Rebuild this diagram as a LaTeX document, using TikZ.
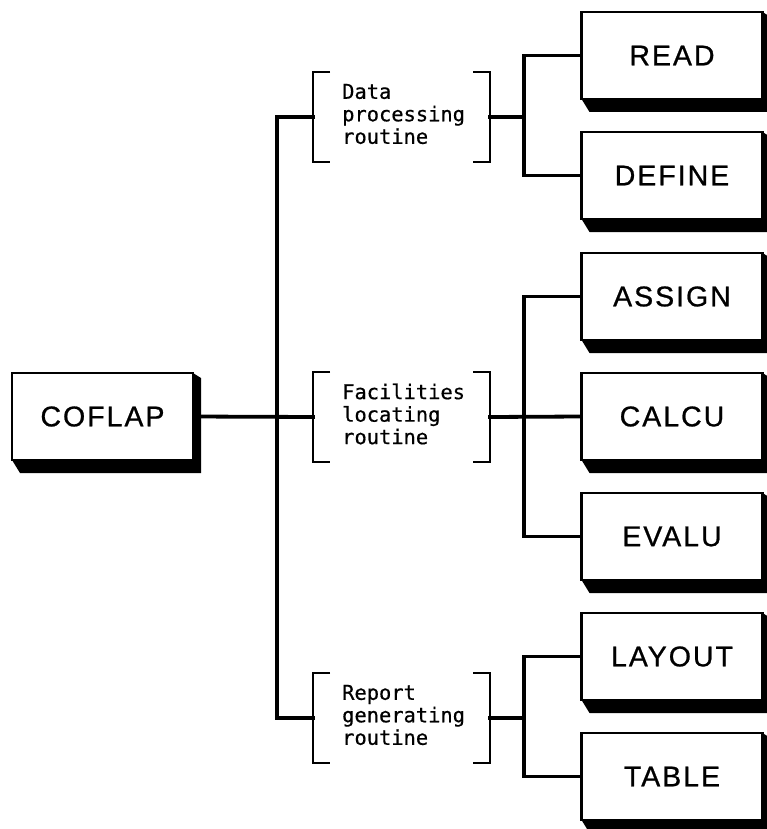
\documentclass[tikz,border=0pt]{standalone}
\usepackage{fontspec}
\newfontfamily\boxfont[LetterSpace=7,FakeBold=0.8]{Liberation Sans}
\newfontfamily\typefont[FakeBold=0.6]{DejaVu Sans Mono}
\usetikzlibrary{backgrounds,calc}
\tikzset{
  module/.style={draw=black, line width=2.2pt, fill=white, rectangle,
    minimum width=181pt, minimum height=87pt, inner sep=0pt, outer sep=0pt,
    font=\boxfont\fontsize{28.5}{30}\selectfont},
  routine/.style={rectangle, minimum width=177pt, minimum height=90pt,
    inner sep=0pt, outer sep=0pt},
  routinetext/.style={anchor=west, align=left, inner sep=0pt,
    font=\typefont\fontsize{20.4}{22.5}\selectfont},
  conn/.style={line width=3.8pt, line cap=rect},
  bracket/.style={line width=2.2pt},
  shade/.style={fill=black}
}
\newcommand{\dropshadow}[1]{%
  \fill[shade] (#1.south west) -- ++(8,13) -- ($(#1.south east)+(8,13)$)
    -- ($(#1.north east)+(8,5)$) -- (#1.north east) -- cycle;}
\newcommand{\routinebrackets}[1]{%
  \draw[bracket] ([xshift=17pt]#1.north west) -- (#1.north west)
    -- (#1.south west) -- ([xshift=17pt]#1.south west);
  \draw[bracket] ([xshift=-17pt]#1.north east) -- (#1.north east)
    -- (#1.south east) -- ([xshift=-17pt]#1.south east);}
\begin{document}
\begin{tikzpicture}[x=1pt, y=-1pt]
  \useasboundingbox (0,0) rectangle (767,829);
  \clip (0,0) rectangle (767,829);

  % main program
  \node[module] (coflap) at (102.5,416.5) {COFLAP};

  % routine groups
  \node[routine] (dp) at (401.5,117) {};
  \node[routine] (fl) at (401.5,417) {};
  \node[routine] (rg) at (401.5,718) {};
  \node[routinetext] (dpt) at (342,114) {Data\\processing\\routine};
  \node[routinetext] (flt) at (342,414) {Facilities\\locating\\routine};
  \node[routinetext] (rgt) at (342,715) {Report\\generating\\routine};
  \routinebrackets{dp}
  \routinebrackets{fl}
  \routinebrackets{rg}

  % subroutines
  \node[module] (read)   at (672,55.5)  {READ};
  \node[module] (define) at (672,175.5) {DEFINE};
  \node[module] (assign) at (672,296.5) {ASSIGN};
  \node[module] (calcu)  at (672,416.5) {CALCU};
  \node[module] (evalu)  at (672,536.5) {EVALU};
  \node[module] (layout) at (672,656.5) {LAYOUT};
  \node[module] (table)  at (672,776.5) {TABLE};

  \begin{scope}[on background layer]
    \foreach \n in {coflap,read,define,assign,calcu,evalu,layout,table}
      {\dropshadow{\n}}

    % trunk from the main program to the routines
    \draw[conn] (coflap.east) -- (fl.west);
    \draw[conn] (dp.west) -- ++(-36,0) |- (rg.west);

    % junctions to the subroutines
    \coordinate (j1) at (524,117);
    \coordinate (j2) at (524,417);
    \coordinate (j3) at (524,718);
    \draw[conn] (dp.east) -- (j1);
    \draw[conn] (read.west) -| (j1) |- (define.west);
    \draw[conn] (fl.east) -- (calcu.west);
    \draw[conn] (assign.west) -| (j2) |- (evalu.west);
    \draw[conn] (rg.east) -- (j3);
    \draw[conn] (layout.west) -| (j3) |- (table.west);
  \end{scope}
\end{tikzpicture}
\end{document}
